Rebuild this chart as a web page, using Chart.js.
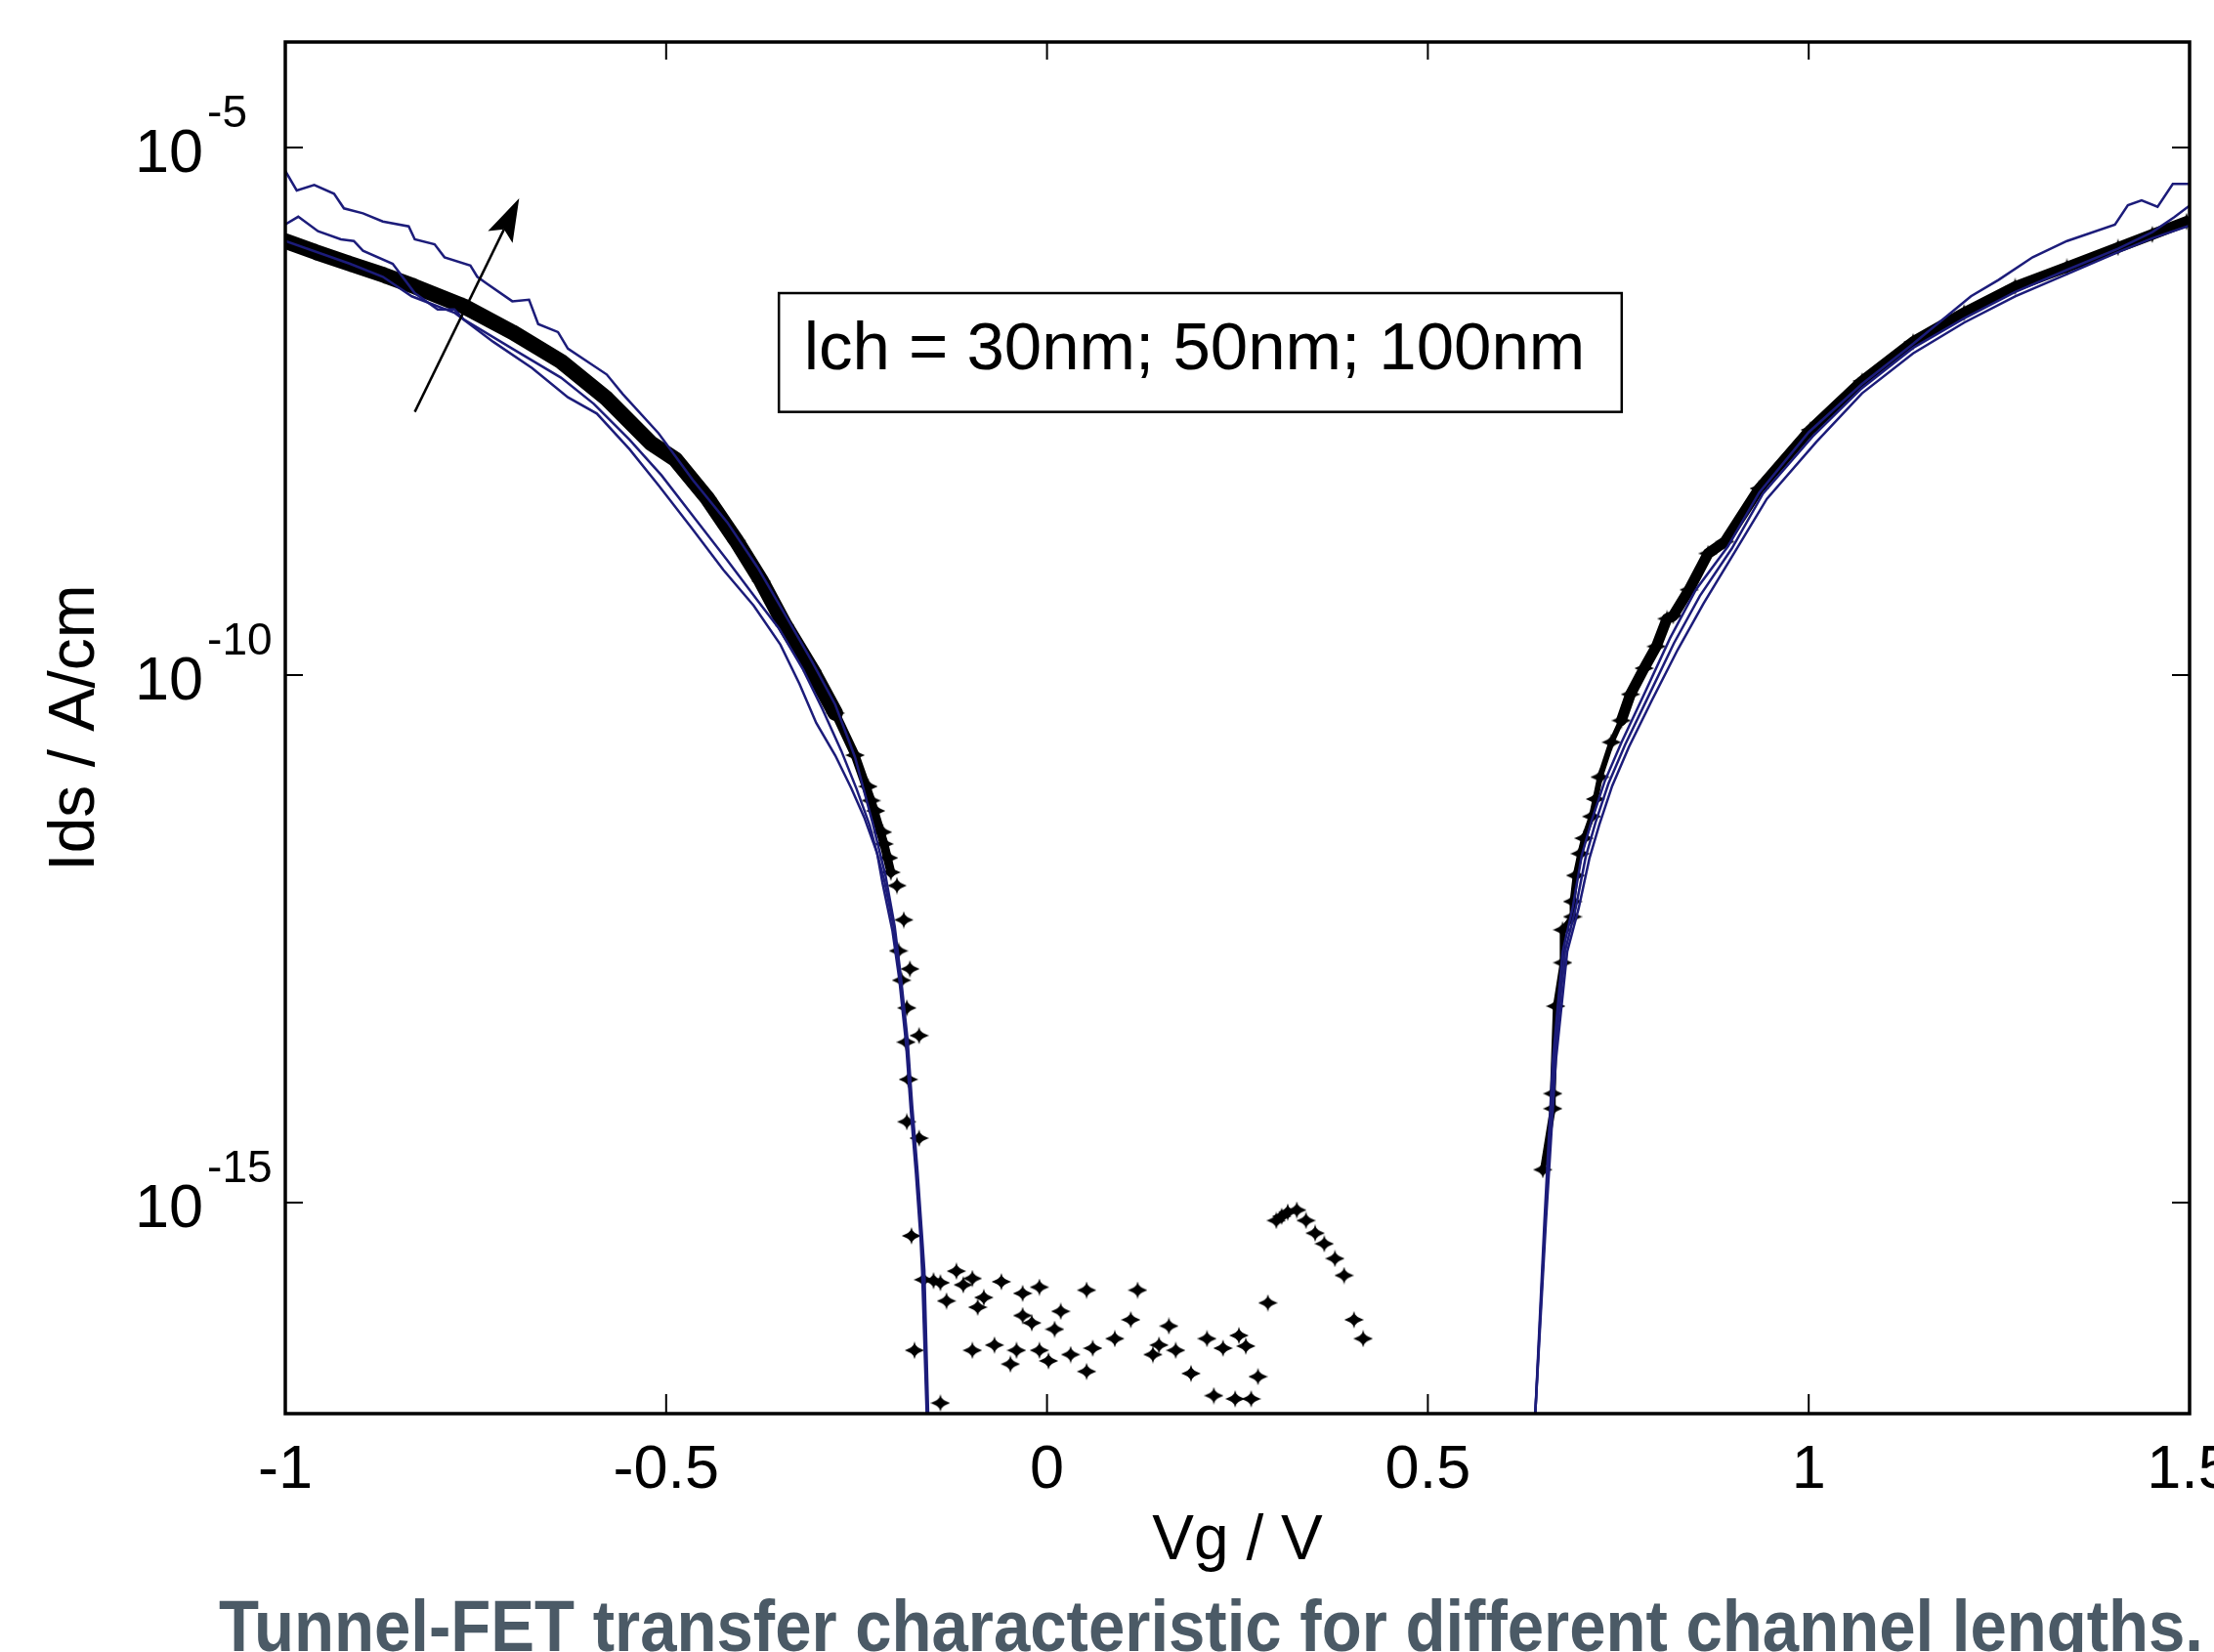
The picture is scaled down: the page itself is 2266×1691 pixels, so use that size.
<!DOCTYPE html>
<html>
<head>
<meta charset="utf-8">
<title>Tunnel-FET transfer characteristic</title>
<script src="https://cdn.jsdelivr.net/npm/chart.js@4.4.1/dist/chart.umd.min.js"></script>
<style>
    html, body { margin: 0; padding: 0; background: #fff; overflow: hidden; }
    canvas { display: block; }
</style>
</head>
<body>
<canvas id="fetChart" width="2266" height="1691"></canvas>
<script>
// ===========================
// Data (Vg in V, Ids in A/cm)
// ===========================

const xTicks = [-1, -0.5, 0, 0.5, 1, 1.5];
const xTickLabels = ['-1', '-0.5', '0', '0.5', '1', '1.5'];
const yTicks = [1e-15, 1e-10, 1e-5];
const yTickExponents = ['-15', '-10', '-5'];

// simulated curves, Lch = 30nm / 50nm / 100nm
const lch30LeftVg = [-1.0, -0.985, -0.962, -0.936, -0.923, -0.898, -0.872, -0.838, -0.830, -0.804, -0.791, -0.757, -0.748, -0.736, -0.702, -0.680, -0.668, -0.642, -0.629, -0.578, -0.557, -0.510, -0.465, -0.420, -0.380, -0.342, -0.308, -0.278, -0.252, -0.229, -0.212, -0.200, -0.192, -0.183, -0.177, -0.170, -0.164, -0.161, -0.156];
const lch30LeftIds = [6.00e-6, 3.92e-6, 4.42e-6, 3.65e-6, 2.65e-6, 2.38e-6, 1.99e-6, 1.79e-6, 1.35e-6, 1.21e-6, 9.12e-7, 7.62e-7, 5.96e-7, 5.16e-7, 3.49e-7, 3.61e-7, 2.12e-7, 1.78e-7, 1.24e-7, 7.06e-8, 4.61e-8, 1.96e-8, 7.08e-9, 2.82e-9, 1.05e-9, 3.55e-10, 1.32e-10, 5.25e-11, 1.66e-11, 3.98e-12, 1.26e-12, 4.17e-13, 1.41e-13, 3.47e-14, 8.32e-15, 2.00e-15, 4.79e-16, 2.29e-16, 1e-17];
const lch30RightVg = [0.641, 0.653, 0.664, 0.677, 0.690, 0.702, 0.715, 0.732, 0.754, 0.784, 0.818, 0.852, 0.894, 0.935, 1.000, 1.070, 1.137, 1.213, 1.249, 1.294, 1.339, 1.402, 1.419, 1.437, 1.458, 1.478, 1.500];
const lch30RightIds = [1e-17, 6.61e-16, 2.19e-14, 2.40e-13, 6.17e-13, 1.95e-12, 4.17e-12, 9.77e-12, 2.29e-11, 6.61e-11, 2.24e-10, 6.46e-10, 1.66e-9, 5.37e-9, 2.00e-8, 5.75e-8, 1.38e-7, 3.89e-7, 5.55e-7, 9.12e-7, 1.30e-6, 1.86e-6, 2.84e-6, 3.16e-6, 2.74e-6, 4.51e-6, 4.51e-6];

const lch50LeftVg = [-1.0, -0.983, -0.957, -0.927, -0.910, -0.898, -0.859, -0.830, -0.800, -0.778, -0.766, -0.702, -0.638, -0.595, -0.548, -0.506, -0.463, -0.420, -0.378, -0.352, -0.320, -0.295, -0.270, -0.250, -0.233, -0.214, -0.201, -0.193, -0.184, -0.178, -0.171, -0.165, -0.163, -0.157];
const lch50LeftIds = [1.87e-6, 2.21e-6, 1.61e-6, 1.35e-6, 1.30e-6, 1.05e-6, 7.91e-7, 4.17e-7, 2.92e-7, 2.92e-7, 2.36e-7, 1.24e-7, 6.58e-8, 3.72e-8, 1.70e-8, 7.80e-9, 3.10e-9, 1.23e-9, 4.88e-10, 2.77e-10, 1.12e-10, 4.79e-11, 1.91e-11, 8.32e-12, 3.80e-12, 1.16e-12, 4.00e-13, 1.38e-13, 3.32e-14, 8.04e-15, 1.94e-15, 4.68e-16, 2.30e-16, 1e-17];
const lch50RightVg = [0.641, 0.654, 0.666, 0.680, 0.694, 0.707, 0.720, 0.737, 0.759, 0.789, 0.823, 0.857, 0.899, 0.940, 1.005, 1.070, 1.137, 1.204, 1.271, 1.339, 1.406, 1.451, 1.480, 1.500];
const lch50RightIds = [1e-17, 6.61e-16, 2.19e-14, 2.40e-13, 6.17e-13, 1.86e-12, 3.98e-12, 9.33e-12, 2.19e-11, 6.17e-11, 2.00e-10, 5.62e-10, 1.58e-9, 5.25e-9, 1.82e-8, 5.25e-8, 1.26e-7, 2.40e-7, 4.27e-7, 6.92e-7, 1.10e-6, 1.58e-6, 2.19e-6, 2.82e-6];

const lch100LeftVg = [-1.0, -0.915, -0.872, -0.834, -0.778, -0.727, -0.676, -0.629, -0.591, -0.548, -0.510, -0.467, -0.425, -0.385, -0.350, -0.325, -0.303, -0.278, -0.257, -0.240, -0.223, -0.216, -0.203, -0.194, -0.185, -0.179, -0.172, -0.166, -0.164, -0.158];
const lch100LeftIds = [1.30e-6, 7.91e-7, 5.96e-7, 3.89e-7, 2.72e-7, 1.44e-7, 8.13e-8, 4.29e-8, 3.01e-8, 1.38e-8, 6.30e-9, 2.50e-9, 9.93e-10, 4.54e-10, 1.94e-10, 8.26e-11, 3.52e-11, 1.73e-11, 8.49e-12, 4.48e-12, 2.05e-12, 1.07e-12, 3.80e-13, 1.32e-13, 3.16e-14, 7.76e-15, 1.86e-15, 4.57e-16, 2.24e-16, 1e-17];
const lch100RightVg = [0.641, 0.655, 0.668, 0.683, 0.698, 0.712, 0.725, 0.742, 0.764, 0.794, 0.828, 0.862, 0.904, 0.945, 1.010, 1.070, 1.137, 1.204, 1.271, 1.339, 1.406, 1.451, 1.500];
const lch100RightIds = [1e-17, 6.61e-16, 2.19e-14, 2.40e-13, 6.17e-13, 1.82e-12, 3.80e-12, 8.91e-12, 2.09e-11, 5.75e-11, 1.74e-10, 4.79e-10, 1.51e-9, 4.68e-9, 1.62e-8, 4.68e-8, 1.12e-7, 2.19e-7, 3.89e-7, 6.31e-7, 1.02e-6, 1.38e-6, 1.82e-6];

// measured points (black markers)
const measuredLeftVg = [-1.0, -0.96, -0.915, -0.87, -0.83, -0.766, -0.702, -0.638, -0.578, -0.52, -0.488, -0.446, -0.408, -0.375, -0.344, -0.308, -0.278, -0.252, -0.231, -0.214, -0.205];
const measuredLeftIds = [1.30e-6, 1.02e-6, 7.91e-7, 6.17e-7, 4.81e-7, 3.14e-7, 1.78e-7, 9.38e-8, 4.17e-8, 1.58e-8, 1.11e-8, 4.74e-9, 1.88e-9, 7.76e-10, 2.95e-10, 1.10e-10, 4.37e-11, 1.74e-11, 6.46e-12, 2.51e-12, 1.35e-12];

const measuredLowVg = [-0.235, -0.225, -0.216, -0.208, -0.197, -0.188, -0.195, -0.180, -0.191, -0.184, -0.168, -0.185, -0.182, -0.184, -0.168, -0.178, -0.174,
    -0.162, -0.149, -0.140, -0.132, -0.119, -0.110, -0.098, -0.091, -0.083, -0.060, -0.032, -0.010, -0.032, -0.020, 0.018, 0.010, 0.052, 0.119, 0.110, 0.089,
    0.060, 0.052, 0.031, 0.002, -0.010, -0.040, -0.048, -0.069, -0.098, -0.140, 0.160, 0.147, 0.139, 0.169, 0.189, 0.210, 0.231, 0.252, 0.261, 0.219,
    0.247, 0.268, 0.277, 0.290, 0.301, 0.308, 0.316, 0.328, 0.340, 0.352, 0.364, 0.378, 0.390, 0.403, 0.415];
const measuredLowIds = [8.79e-12, 5.16e-12, 3.25e-12, 1.85e-12, 1.01e-12, 4.78e-13, 2.43e-13, 1.64e-13, 1.28e-13, 7.00e-14, 3.83e-14, 3.32e-14, 1.47e-14, 5.83e-15, 4.08e-15, 4.84e-16, 3.98e-17,
    1.86e-16, 1.82e-16, 1.74e-16, 1.17e-16, 2.24e-16, 1.66e-16, 1.91e-16, 1.02e-16, 1.26e-16, 1.78e-16, 1.38e-16, 1.58e-16, 8.51e-17, 7.24e-17, 9.33e-17, 6.31e-17, 1.48e-16, 1.48e-16, 7.76e-17, 5.13e-17,
    4.17e-17, 2.51e-17, 3.63e-17, 3.16e-17, 3.98e-17, 3.98e-17, 2.95e-17, 4.47e-17, 3.98e-17, 1.26e-17, 6.76e-17, 4.47e-17, 3.63e-17, 3.98e-17, 2.40e-17, 5.13e-17, 4.17e-17, 5.50e-17, 4.37e-17, 1.48e-17,
    1.38e-17, 1.38e-17, 2.24e-17, 1.12e-16, 6.76e-16, 7.41e-16, 8.13e-16, 8.51e-16, 6.76e-16, 5.13e-16, 4.07e-16, 2.95e-16, 2.04e-16, 7.76e-17, 5.13e-17];

const measuredRightVg = [0.651, 0.664, 0.664, 0.668, 0.677, 0.677, 0.690, 0.690, 0.694, 0.700, 0.705, 0.715, 0.720, 0.726, 0.741, 0.754, 0.766, 0.784, 0.800, 0.814, 0.822, 0.843, 0.868, 0.890, 0.935, 1.002, 1.070, 1.137, 1.204, 1.271, 1.339, 1.406, 1.451, 1.496];
const measuredRightIds = [2.05e-15, 7.78e-15, 1.08e-14, 7.28e-14, 1.88e-13, 3.85e-13, 5.12e-13, 7.14e-13, 1.26e-12, 2.03e-12, 2.84e-12, 4.57e-12, 6.68e-12, 1.08e-11, 2.31e-11, 3.71e-11, 6.58e-11, 1.16e-10, 1.87e-10, 3.42e-10, 3.64e-10, 6.44e-10, 1.42e-9, 1.84e-9, 5.87e-9, 2.11e-8, 6.12e-8, 1.44e-7, 2.72e-7, 4.81e-7, 7.36e-7, 1.13e-6, 1.50e-6, 1.99e-6];

// annotation (text box and arrow, in data units)
const noteText = 'lch = 30nm; 50nm; 100nm';
const noteBoxVg = [-0.352, 0.7545];
const noteBoxIds = [4.17e-7, 3.12e-8];
const arrowVg = [-0.830, -0.693];
const arrowIds = [3.12e-8, 3.30e-6];
const captionText = 'Tunnel-FET transfer characteristic for different channel lengths.';

// ===========================
// Helpers
// ===========================

const FONT = "'Liberation Sans', Arial, Helvetica, sans-serif";
const BLUE = 'rgb(28, 28, 122)';

function toPoints(xs, ys) {
    return xs.map((x, i) => ({ x: x, y: ys[i] }));
}

// filled diamond with short pointed arms, like the markers in the original figure
function makeStarMarker() {
    const c = document.createElement('canvas');
    c.width = 20;
    c.height = 18;
    const g = c.getContext('2d');
    g.fillStyle = '#000';
    g.beginPath();
    g.moveTo(10, 0);
    g.lineTo(11.6, 5.2);
    g.lineTo(20, 9);
    g.lineTo(11.6, 12.8);
    g.lineTo(10, 18);
    g.lineTo(8.4, 12.8);
    g.lineTo(0, 9);
    g.lineTo(8.4, 5.2);
    g.closePath();
    g.fill();
    g.beginPath();
    g.moveTo(10, 2.5);
    g.lineTo(16.5, 9);
    g.lineTo(10, 15.5);
    g.lineTo(3.5, 9);
    g.closePath();
    g.fill();
    return c;
}

const star = makeStarMarker();

function blueLine(label, xs, ys) {
    return {
        label: label,
        data: toPoints(xs, ys),
        showLine: true,
        borderColor: BLUE,
        borderWidth: 2.5,
        pointRadius: 0,
        tension: 0,
        fill: false
    };
}

// ===========================
// Drawing plugin: frame, inward ticks, y labels, note box, arrow, caption
// ===========================

const figureDecor = {
    id: 'figureDecor',
    afterDatasetsDraw(chart) {
        const { ctx, chartArea: a, scales: { x, y } } = chart;
        ctx.save();

        // note box
        const bl = x.getPixelForValue(noteBoxVg[0]);
        const br = x.getPixelForValue(noteBoxVg[1]);
        const bt = y.getPixelForValue(noteBoxIds[0]);
        const bb = y.getPixelForValue(noteBoxIds[1]);
        ctx.fillStyle = '#fff';
        ctx.fillRect(bl, bt, br - bl, bb - bt);
        ctx.strokeStyle = '#000';
        ctx.lineWidth = 2.5;
        ctx.strokeRect(bl, bt, br - bl, bb - bt);
        ctx.fillStyle = '#000';
        ctx.font = '69px ' + FONT;
        ctx.textAlign = 'center';
        ctx.textBaseline = 'alphabetic';
        ctx.fillText(noteText, (bl + br) / 2 - 6, (bt + bb) / 2 + 17);

        // arrow
        const x0 = x.getPixelForValue(arrowVg[0]), y0 = y.getPixelForValue(arrowIds[0]);
        const x1 = x.getPixelForValue(arrowVg[1]), y1 = y.getPixelForValue(arrowIds[1]);
        const ang = Math.atan2(y1 - y0, x1 - x0);
        const headLen = 44, headHalf = 14;
        ctx.lineWidth = 2.5;
        ctx.beginPath();
        ctx.moveTo(x0, y0);
        ctx.lineTo(x1 - Math.cos(ang) * headLen * 0.8, y1 - Math.sin(ang) * headLen * 0.8);
        ctx.stroke();
        ctx.beginPath();
        ctx.moveTo(x1, y1);
        ctx.lineTo(x1 - Math.cos(ang) * headLen - Math.sin(ang) * headHalf, y1 - Math.sin(ang) * headLen + Math.cos(ang) * headHalf);
        ctx.lineTo(x1 - Math.cos(ang) * headLen * 0.8, y1 - Math.sin(ang) * headLen * 0.8);
        ctx.lineTo(x1 - Math.cos(ang) * headLen + Math.sin(ang) * headHalf, y1 - Math.sin(ang) * headLen - Math.cos(ang) * headHalf);
        ctx.closePath();
        ctx.fill();

        // frame
        ctx.lineWidth = 3.5;
        ctx.strokeRect(a.left, a.top, a.right - a.left, a.bottom - a.top);

        // inward ticks on all four sides
        ctx.lineWidth = 2;
        ctx.beginPath();
        xTicks.forEach(v => {
            const px = x.getPixelForValue(v);
            ctx.moveTo(px, a.bottom);
            ctx.lineTo(px, a.bottom - 20);
            ctx.moveTo(px, a.top);
            ctx.lineTo(px, a.top + 18);
        });
        yTicks.forEach(v => {
            const py = y.getPixelForValue(v);
            ctx.moveTo(a.left, py);
            ctx.lineTo(a.left + 18, py);
            ctx.moveTo(a.right, py);
            ctx.lineTo(a.right - 18, py);
        });
        ctx.stroke();

        // y tick labels as 10 with a raised exponent
        ctx.textAlign = 'left';
        ctx.textBaseline = 'alphabetic';
        yTicks.forEach((v, i) => {
            const py = y.getPixelForValue(v);
            ctx.font = '63px ' + FONT;
            ctx.fillText('10', 138, py + 25);
            const w = ctx.measureText('10').width;
            ctx.font = '46px ' + FONT;
            ctx.fillText(yTickExponents[i], 138 + w + 4, py - 21);
        });

        ctx.restore();
    },
    afterDraw(chart) {
        const ctx = chart.ctx;
        ctx.save();
        ctx.font = 'bold 74px ' + FONT;
        ctx.fillStyle = '#4b5a66';
        ctx.textAlign = 'left';
        ctx.textBaseline = 'alphabetic';
        const w = ctx.measureText(captionText).width;
        ctx.translate(224, 1690);
        ctx.scale(2031 / w, 1);
        ctx.fillText(captionText, 0, 0);
        ctx.restore();
    }
};

// ===========================
// Chart
// ===========================

Chart.defaults.font.family = FONT;
Chart.defaults.color = '#000';

new Chart(document.getElementById('fetChart'), {
    type: 'scatter',
    data: {
        datasets: [
            blueLine('Lch = 30nm', lch30LeftVg, lch30LeftIds),
            blueLine('Lch = 30nm', lch30RightVg, lch30RightIds),
            blueLine('Lch = 50nm', lch50LeftVg, lch50LeftIds),
            blueLine('Lch = 50nm', lch50RightVg, lch50RightIds),
            blueLine('Lch = 100nm', lch100LeftVg, lch100LeftIds),
            blueLine('Lch = 100nm', lch100RightVg, lch100RightIds),
            {
                label: 'measured',
                data: toPoints(measuredLeftVg, measuredLeftIds),
                showLine: true,
                borderColor: '#000',
                borderWidth: 17,
                borderCapStyle: 'round',
                borderJoinStyle: 'round',
                segment: {
                    borderWidth: c => (c.p1.parsed.x > -0.26 ? 9 : 16)
                },
                pointStyle: star,
                pointRadius: 8,
                tension: 0
            },
            {
                label: 'measured',
                data: toPoints(measuredLowVg, measuredLowIds),
                showLine: false,
                pointStyle: star,
                pointRadius: 8
            },
            {
                label: 'measured',
                data: toPoints(measuredRightVg, measuredRightIds),
                showLine: true,
                borderColor: '#000',
                borderWidth: 11,
                borderCapStyle: 'round',
                borderJoinStyle: 'round',
                segment: {
                    borderWidth: c => (c.p0.parsed.x < 0.75 ? 6 : 11)
                },
                pointStyle: star,
                pointRadius: 8,
                tension: 0
            }
        ]
    },
    options: {
        responsive: false,
        animation: false,
        devicePixelRatio: 1,
        layout: {
            padding: { top: 43, right: 19, left: 0, bottom: 0 }
        },
        plugins: {
            legend: { display: false },
            tooltip: { enabled: false }
        },
        scales: {
            x: {
                type: 'linear',
                position: 'bottom',
                min: -1,
                max: 1.5,
                grid: { display: false, drawTicks: false },
                border: { display: false },
                afterBuildTicks: s => {
                    s.ticks = xTicks.map(v => ({ value: v }));
                },
                afterFit: s => {
                    s.height = 244;
                    s.paddingLeft = 0;
                    s.paddingRight = 0;
                },
                ticks: {
                    color: '#000',
                    font: { size: 63 },
                    padding: 21,
                    maxRotation: 0,
                    autoSkip: false,
                    callback: (v, i) => xTickLabels[i]
                },
                title: {
                    display: true,
                    text: 'Vg / V',
                    color: '#000',
                    font: { size: 64 },
                    padding: { top: 0, bottom: 74 }
                }
            },
            y: {
                type: 'logarithmic',
                min: 1e-17,
                max: 1e-4,
                grid: { display: false, drawTicks: false },
                border: { display: false },
                ticks: { display: false },
                afterFit: s => {
                    s.width = 292;
                },
                title: {
                    display: true,
                    text: 'Ids / A/cm',
                    color: '#000',
                    font: { size: 66 },
                    padding: { top: 38, bottom: 0 }
                }
            }
        }
    },
    plugins: [figureDecor]
});
</script>
</body>
</html>
